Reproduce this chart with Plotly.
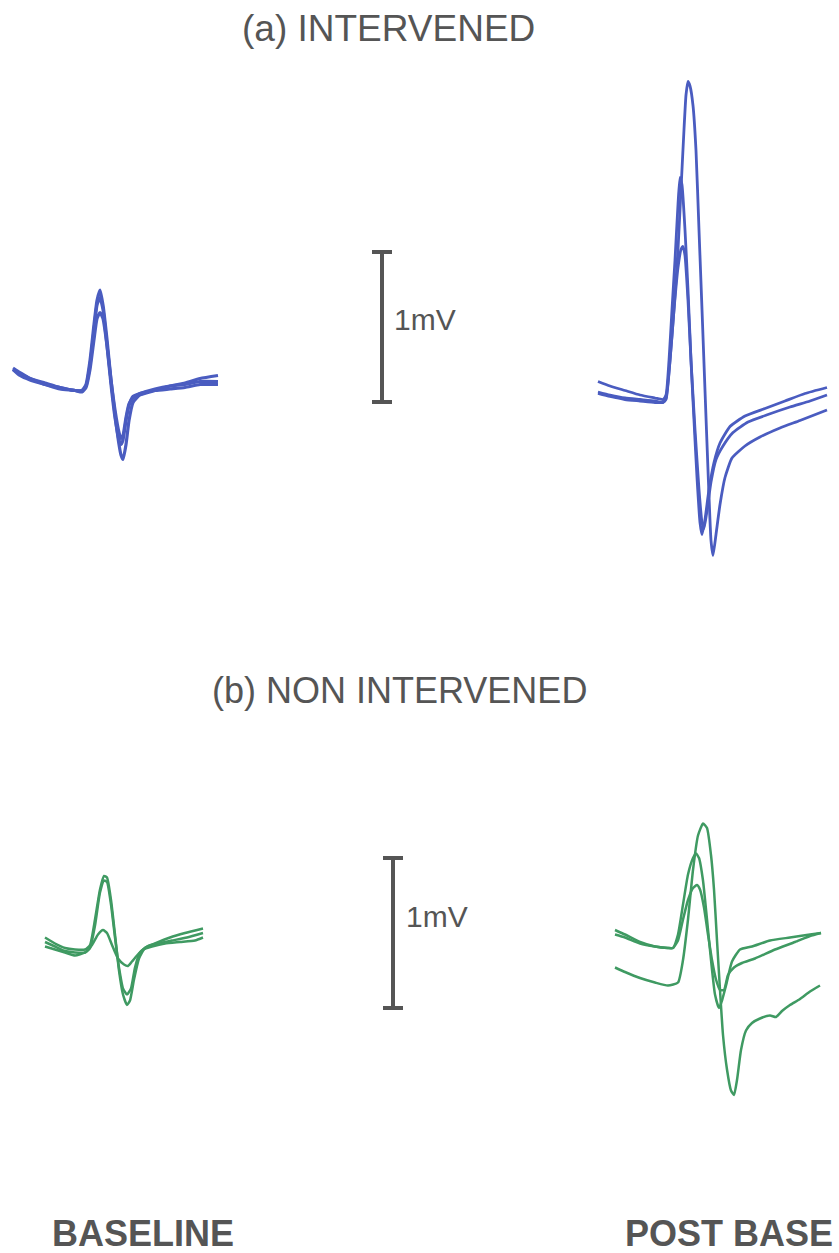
import plotly.graph_objects as go

# Page size and drawing scales
W, H = 839, 1253
PX_PER_MS = 20.0     # horizontal scale
PX_PER_MV = 150.0    # vertical scale (the 1 mV bar is 150 px tall)
SCALE_MV = 1.0

BLUE = "#4a5cc0"
GREEN = "#3f9a62"
INK = "#555555"

# ---------------- (a) INTERVENED, baseline: time (ms), voltage (mV) ----------------
t_a_base = [0, 0.35, 0.85, 1.6, 2.35, 3.1, 3.45, 3.65, 3.85, 4.05, 4.2, 4.35, 4.5, 4.7,
            4.9, 5.1, 5.3, 5.4, 5.5, 5.65, 5.8, 6.0, 6.35, 7.1, 7.85, 8.6, 9.35, 10.25]
a_base_1 = [0.08, 0.05, 0.01, -0.02, -0.05, -0.07, -0.07, -0.03, 0.13, 0.37, 0.53, 0.60, 0.50, 0.27,
            0.00, -0.23, -0.43, -0.50, -0.53, -0.43, -0.27, -0.15, -0.10, -0.07, -0.04, -0.02, 0.01, 0.03]
a_base_2 = [0.07, 0.04, 0.01, -0.03, -0.05, -0.07, -0.07, -0.04, 0.10, 0.33, 0.50, 0.55, 0.47, 0.23,
            -0.03, -0.25, -0.40, -0.43, -0.40, -0.27, -0.17, -0.11, -0.09, -0.06, -0.04, -0.03, -0.01, -0.01]
a_base_3 = [0.07, 0.03, 0.00, -0.03, -0.06, -0.07, -0.08, -0.05, 0.07, 0.27, 0.41, 0.45, 0.41, 0.23,
            0.00, -0.20, -0.35, -0.39, -0.37, -0.25, -0.16, -0.12, -0.09, -0.07, -0.06, -0.05, -0.03, -0.03]

# ---------------- (a) INTERVENED, post ----------------
t_a_post_1 = [0.05, 0.65, 1.4, 2.15, 2.9, 3.3, 3.45, 3.65, 3.85, 4.05, 4.2, 4.35, 4.45, 4.55, 4.65, 4.8,
              4.95, 5.1, 5.25, 5.4, 5.55, 5.7, 5.8, 5.95, 6.15, 6.4, 6.75, 7.4, 8.15, 9.15, 10.15, 11.5]
a_post_1 = [-0.08, -0.10, -0.12, -0.13, -0.14, -0.15, -0.13, 0.13, 0.47, 0.87, 1.27, 1.67, 1.90, 1.99, 1.96, 1.83,
            1.53, 1.00, 0.47, -0.07, -0.60, -1.07, -1.17, -1.03, -0.83, -0.65, -0.52, -0.44, -0.38, -0.32, -0.27, -0.20]
t_a_post_2 = [0.05, 0.65, 1.4, 2.15, 2.9, 3.3, 3.45, 3.6, 3.75, 3.9, 4.05, 4.15, 4.25, 4.4, 4.55,
              4.7, 4.85, 5.0, 5.15, 5.25, 5.4, 5.6, 5.85, 6.15, 6.65, 7.4, 8.4, 9.4, 10.4, 11.5]
a_post_2 = [-0.01, -0.04, -0.07, -0.10, -0.12, -0.13, -0.10, 0.13, 0.47, 0.80, 1.17, 1.35, 1.30, 1.00, 0.60,
            0.13, -0.27, -0.65, -0.95, -1.03, -0.93, -0.73, -0.55, -0.42, -0.31, -0.24, -0.19, -0.14, -0.09, -0.05]
t_a_post_3 = [0.05, 0.65, 1.4, 2.15, 2.9, 3.3, 3.45, 3.65, 3.85, 4.05, 4.2, 4.3, 4.4, 4.55, 4.7,
              4.9, 5.1, 5.25, 5.35, 5.5, 5.7, 5.95, 6.3, 6.8, 7.55, 8.55, 9.65, 10.65, 11.5]
a_post_3 = [-0.09, -0.11, -0.13, -0.14, -0.15, -0.15, -0.12, 0.13, 0.47, 0.75, 0.87, 0.89, 0.83, 0.53, 0.13,
            -0.33, -0.73, -0.95, -0.99, -0.87, -0.68, -0.53, -0.44, -0.35, -0.28, -0.23, -0.18, -0.14, -0.10]

# ---------------- (b) NON INTERVENED, baseline ----------------
t_b_base_1 = [0, 0.5, 1.0, 1.5, 2.0, 2.25, 2.5, 2.75, 2.95, 3.1, 3.3, 3.5, 3.7, 3.9, 4.1, 4.25,
              4.45, 4.7, 5.0, 5.5, 6.25, 7.0, 7.9]
b_base_1 = [0.05, 0.01, -0.02, -0.03, -0.03, 0.00, 0.17, 0.37, 0.46, 0.45, 0.30, 0.07, -0.17, -0.33, -0.40, -0.37,
            -0.23, -0.09, -0.02, 0.01, 0.05, 0.08, 0.11]
t_b_base_2 = [0, 0.5, 1.0, 1.5, 2.0, 2.25, 2.5, 2.75, 2.95, 3.1, 3.3, 3.5, 3.7, 3.9, 4.1, 4.3,
              4.5, 4.75, 5.1, 5.6, 6.35, 7.1, 7.9]
b_base_2 = [0.02, -0.01, -0.04, -0.05, -0.05, -0.02, 0.13, 0.35, 0.43, 0.42, 0.27, 0.05, -0.15, -0.29, -0.33, -0.29,
            -0.15, -0.05, -0.01, 0.01, 0.03, 0.05, 0.08]
t_b_base_3 = [0, 0.5, 1.0, 1.5, 2.0, 2.35, 2.65, 2.9, 3.1, 3.35, 3.65, 3.95, 4.15, 4.35, 4.6,
              4.9, 5.35, 6.0, 6.75, 7.5, 7.9]
b_base_3 = [-0.01, -0.03, -0.05, -0.07, -0.05, 0.00, 0.07, 0.10, 0.08, 0.00, -0.09, -0.13, -0.14, -0.11, -0.07,
            -0.03, -0.01, 0.01, 0.02, 0.03, 0.05]

# ---------------- (b) NON INTERVENED, post ----------------
t_b_post_1 = [0, 0.5, 1.25, 2.0, 2.65, 3.15, 3.4, 3.65, 3.9, 4.15, 4.4, 4.6, 4.8, 4.95, 5.1, 5.25,
              5.4, 5.6, 5.8, 5.95, 6.1, 6.3, 6.55, 6.85, 7.25, 7.75, 8.05, 8.35, 8.75, 9.25, 9.75, 10.25]
b_post_1 = [-0.15, -0.18, -0.22, -0.25, -0.27, -0.25, -0.10, 0.17, 0.50, 0.73, 0.81, 0.78, 0.60, 0.37, 0.03, -0.30,
            -0.60, -0.83, -0.97, -1.00, -0.90, -0.70, -0.57, -0.52, -0.49, -0.47, -0.48, -0.44, -0.40, -0.36, -0.31, -0.27]
t_b_post_2 = [0, 0.5, 1.25, 2.0, 2.65, 2.9, 3.15, 3.4, 3.65, 3.9, 4.05, 4.2, 4.4, 4.6, 4.8,
              5.0, 5.2, 5.35, 5.55, 5.85, 6.25, 6.85, 7.75, 8.75, 9.75, 10.3]
b_post_2 = [0.10, 0.07, 0.02, -0.01, -0.02, -0.02, 0.07, 0.27, 0.47, 0.58, 0.61, 0.58, 0.43, 0.17, -0.10,
            -0.33, -0.42, -0.37, -0.27, -0.11, -0.03, -0.01, 0.03, 0.05, 0.07, 0.08]
t_b_post_3 = [0, 0.5, 1.25, 2.0, 2.65, 2.9, 3.15, 3.4, 3.65, 3.9, 4.1, 4.25, 4.45, 4.65, 4.85,
              5.05, 5.25, 5.45, 5.65, 5.95, 6.35, 7.0, 8.0, 9.0, 9.75, 10.3]
b_post_3 = [0.07, 0.05, 0.01, -0.01, -0.02, -0.02, 0.03, 0.17, 0.30, 0.38, 0.40, 0.37, 0.25, 0.07, -0.10,
            -0.23, -0.30, -0.30, -0.20, -0.15, -0.12, -0.09, -0.03, 0.02, 0.06, 0.08]

# Page placement of each panel's origin (pixels from the top-left corner)
ORIGIN = {
    "a_base": (13, 380),
    "a_post": (597, 380),
    "b_base": (45, 945),
    "b_post": (615, 945),
}
BAR_A = (382, 402)   # x and bottom of the (a) scale bar, pixels
BAR_B = (393, 1008)  # x and bottom of the (b) scale bar, pixels


def px_to_ms(px):
    return px / PX_PER_MS


def px_to_mv(py):
    return -py / PX_PER_MV


def place(t, v, panel):
    ox, oy = ORIGIN[panel]
    return [px_to_ms(ox) + ti for ti in t], [px_to_mv(oy) + vi for vi in v]


fig = go.Figure()

groups = [
    ("a_base", BLUE, 3.2, [(t_a_base, a_base_1), (t_a_base, a_base_2), (t_a_base, a_base_3)]),
    ("a_post", BLUE, 2.8, [(t_a_post_1, a_post_1), (t_a_post_2, a_post_2), (t_a_post_3, a_post_3)]),
    ("b_base", GREEN, 2.5, [(t_b_base_1, b_base_1), (t_b_base_2, b_base_2), (t_b_base_3, b_base_3)]),
    ("b_post", GREEN, 2.5, [(t_b_post_1, b_post_1), (t_b_post_2, b_post_2), (t_b_post_3, b_post_3)]),
]
for panel, color, width, traces in groups:
    for t, v in traces:
        x, y = place(t, v, panel)
        fig.add_trace(go.Scatter(x=x, y=y, mode="lines", showlegend=False, hoverinfo="skip",
                                 line=dict(color=color, width=width, shape="spline", smoothing=0.5)))

# 1 mV calibration bars
shapes = []
for bx, by in (BAR_A, BAR_B):
    x = px_to_ms(bx)
    y0 = px_to_mv(by)
    y1 = y0 + SCALE_MV
    cap = px_to_ms(10)
    shapes.append(dict(type="line", x0=x, x1=x, y0=y0, y1=y1, line=dict(color=INK, width=4)))
    shapes.append(dict(type="line", x0=x - cap, x1=x + cap, y0=y0, y1=y0, line=dict(color=INK, width=4)))
    shapes.append(dict(type="line", x0=x - cap, x1=x + cap, y0=y1, y1=y1, line=dict(color=INK, width=4)))

FONT = "Liberation Sans, Arial, sans-serif"


def label(text, px, py, size, xanchor="center", bold=False):
    if bold:
        text = "<b>" + text + "</b>"
    return dict(text=text, x=px / W, y=1 - py / H, xref="paper", yref="paper",
                xanchor=xanchor, yanchor="middle", showarrow=False,
                font=dict(family=FONT, size=size, color=INK))


annotations = [
    label("(a) INTERVENED", 388, 29, 37),
    label("(b) NON INTERVENED", 399, 690, 36),
    label("1mV", 392, 319, 30, xanchor="left"),
    label("1mV", 404, 917, 30, xanchor="left"),
    label("BASELINE", 143, 1233, 36, bold=True),
    label("POST BASE", 623, 1233, 36, xanchor="left", bold=True),
]

axis_common = dict(visible=False, showgrid=False, zeroline=False, fixedrange=True)
fig.update_layout(
    width=W, height=H,
    margin=dict(l=0, r=0, t=0, b=0),
    paper_bgcolor="white", plot_bgcolor="white",
    xaxis=dict(range=[0, px_to_ms(W)], **axis_common),
    yaxis=dict(range=[px_to_mv(H), 0], **axis_common),
    shapes=shapes,
    annotations=annotations,
    showlegend=False,
)

fig.write_html("out.html")
